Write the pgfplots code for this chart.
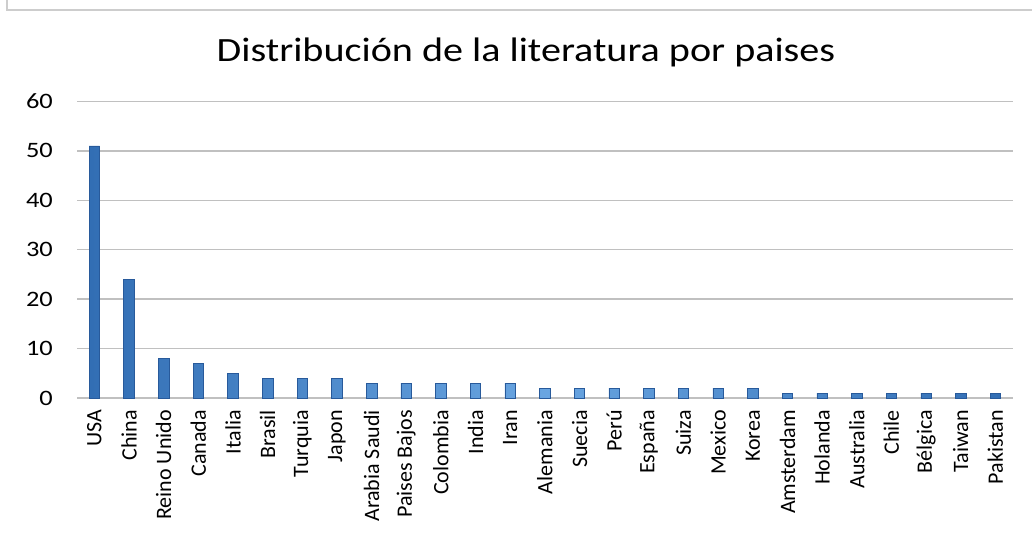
\documentclass[border=0pt]{standalone}
\usepackage{fontspec}
\setmainfont{Carlito}
\newfontfamily\widefont[FakeStretch=1.2]{Carlito}
\newfontfamily\titlefont[FakeStretch=1.18]{Carlito}
\usepackage{pgfplots}
\pgfplotsset{compat=1.18}
\definecolor{gridgray}{RGB}{192,192,192}
\definecolor{barmid}{RGB}{105,165,225}
\definecolor{baredge}{RGB}{50,110,180}
\definecolor{barline}{RGB}{40,90,155}
\definecolor{framegray}{RGB}{205,205,205}
\begin{document}
\begin{tikzpicture}[x=1pt,y=1pt]
\path[use as bounding box] (0,0) rectangle (1032,533);
\draw[framegray, line width=1.5pt] (7,533) -- (7,523) -- (1032,523);
\node[anchor=base, font=\titlefont\fontsize{34}{40}\selectfont] at (526,471) {Distribución de la literatura por paises};
\begin{axis}[
  at={(77pt,135pt)}, anchor=south west,
  scale only axis, width=935.7pt, height=296.6pt,
  xmin=-0.5, xmax=26.5, ymin=0, ymax=60,
  ytick={0,10,...,60},
  xtick={0,...,26},
  xticklabels={USA,China,Reino Unido,Canada,Italia,Brasil,Turquia,Japon,Arabia Saudi,Paises Bajos,Colombia,India,Iran,Alemania,Suecia,Perú,España,Suiza,Mexico,Korea,Amsterdam,Holanda,Australia,Chile,Bélgica,Taiwan,Pakistan},
  axis x line*=bottom, axis y line*=left,
  axis line style={draw=none},
  major tick length=0pt,
  ymajorgrids, grid style={gridgray, line width=1.5pt},
  /pgf/number format/assume math mode=true,
  xticklabel style={rotate=90, anchor=east, inner sep=0pt, font=\fontsize{22}{26}\selectfont, xshift=-12pt},
  yticklabel style={font=\widefont\fontsize{22}{26}\selectfont, anchor=east, inner sep=0pt, xshift=-24pt},
  clip=false,
]
\addplot[ybar, bar width=10.5pt, draw=barline, line width=0.6pt,
  left color=baredge, right color=baredge, middle color=barmid]
  coordinates {
  (0,51) (1,24) (2,8) (3,7) (4,5) (5,4) (6,4) (7,4) (8,3) (9,3)
  (10,3) (11,3) (12,3) (13,2) (14,2) (15,2) (16,2) (17,2) (18,2) (19,2)
  (20,1) (21,1) (22,1) (23,1) (24,1) (25,1) (26,1)
  };
\end{axis}
\end{tikzpicture}
\end{document}
